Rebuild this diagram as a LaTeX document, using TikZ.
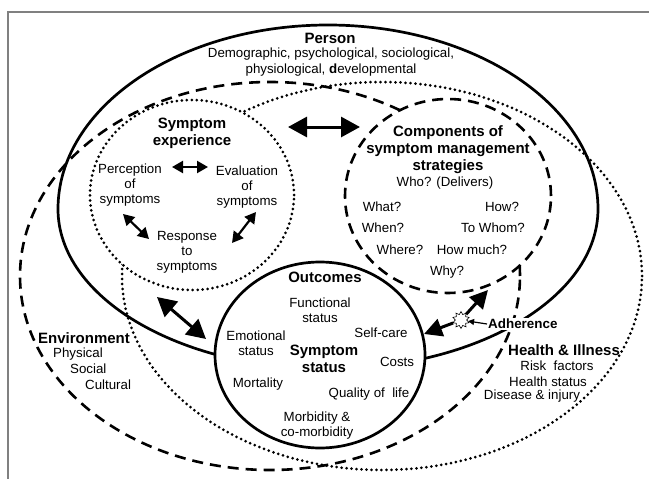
\documentclass[tikz,border=0pt]{standalone}
\usepackage{fontspec}
\setmainfont{Liberation Sans}
\usetikzlibrary{arrows.meta,shapes.geometric}
\begin{document}
\begin{tikzpicture}[x=1pt,y=-1pt,
  txt/.style={font=\fontsize{13.3}{15}\selectfont, align=center, inner sep=0pt},
  hd/.style={font=\fontsize{15}{17}\selectfont\bfseries, align=center, inner sep=0pt},
  solidln/.style={line width=2.7pt},
  dashln/.style={line width=2.6pt, dash pattern=on 11pt off 7pt},
  dotln/.style={line width=3pt, line cap=round, dash pattern=on 0pt off 5pt},
  bigarr/.style={line width=3pt, {Triangle[length=19pt,width=20pt]}-{Triangle[length=19pt,width=20pt]}},
  midarr/.style={line width=2.2pt, {Triangle[length=11pt,width=12pt]}-{Triangle[length=11pt,width=12pt]}},
  onearr/.style={line width=3pt, -{Triangle[length=18pt,width=18pt]}},
]
\useasboundingbox (0,0) rectangle (649,479);
\fill[white] (0,0) rectangle (649,479);
% frame
\draw[line width=1.5pt, gray] (8,479) -- (8,12) -- (649,12);
% environment (dashed)
\draw[dashln] (270,276) ellipse [x radius=250pt, y radius=194pt];
% health & illness (dotted)
\draw[dotln] (382,276) ellipse [x radius=260pt, y radius=194pt];
% person (solid)
\draw[solidln] (58,209) arc[start angle=180,end angle=0,x radius=270pt,y radius=184pt]
  arc[start angle=0,end angle=-180,x radius=270pt,y radius=160pt];
% symptom experience
\draw[dotln, fill=white] (192,195) ellipse [x radius=102pt, y radius=95pt];
% components
\draw[dashln, fill=white] (448,196) ellipse [x radius=103pt, y radius=97pt];
% outcomes
\draw[solidln, fill=white] (320,355) ellipse [x radius=105pt, y radius=93pt];

% texts
\node[hd] (person) at (330,38) {Person};
\node[txt, font=\fontsize{13.3}{16.7}\selectfont] (persondesc) at (331,62) {Demographic, psychological, sociological,\\ physiological, \textbf{d}evelopmental};

\node[hd] (symexp) at (192,133) {Symptom\\experience};
\node[txt] (perc) at (130,185) {Perception\\of\\symptoms};
\node[txt] (eval) at (247,187) {Evaluation\\of\\symptoms};
\node[txt] (resp) at (187,252) {Response\\to\\symptoms};

\node[hd] (comp) at (448,150) {Components of\\symptom management\\strategies};
\node[txt] (who) at (445,183) {Who? (Delivers)};
\node[txt] (what) at (382,207) {What?};
\node[txt] (how) at (502,207) {How?};
\node[txt] (when) at (383,228) {When?};
\node[txt] (towhom) at (493,228) {To Whom?};
\node[txt] (where) at (400,250) {Where?};
\node[txt] (howmuch) at (472,250) {How much?};
\node[txt] (why) at (447,272) {Why?};

\node[hd] (outc) at (325,277) {Outcomes};
\node[txt] (func) at (320,310) {Functional\\status};
\node[txt] (emot) at (256,343) {Emotional\\status};
\node[txt] (selfcare) at (381,333) {Self-care};
\node[hd] (symstat) at (324,359) {Symptom\\status};
\node[txt] (costs) at (397,362) {Costs};
\node[txt] (mort) at (258,384) {Mortality};
\node[txt] (qol) at (369,394) {Quality of\ \ life};
\node[txt] (morb) at (317,426) {Morbidity \&\\co-morbidity};

\node[hd, anchor=west] (env) at (38,338) {Environment};
\node[txt, anchor=west] (phys) at (53,354) {Physical};
\node[txt, anchor=west] (soc) at (70,369) {Social};
\node[txt, anchor=west] (cult) at (85,385) {Cultural};

\node[hd, anchor=west] (health) at (508,350) {Health \& Illness};
\node[txt] (risk) at (557,366) {Risk\ \ factors};
\node[txt] (hstat) at (548,382) {Health status};
\node[txt] (dis) at (532,396) {Disease \& injury};

\node[font=\fontsize{13.4}{15}\selectfont\bfseries, fill=white, inner sep=1pt, anchor=west] (adh) at (487,324) {Adherence};

% arrows
\coordinate (se1) at (288,127); \coordinate (se2) at (360,127);
\draw[bigarr] (se1) -- (se2);
\coordinate (pe1) at (172,167); \coordinate (pe2) at (208,167);
\draw[midarr] (pe1) -- (pe2);
\coordinate (pr1) at (123,214); \coordinate (pr2) at (149,239);
\draw[midarr] (pr1) -- (pr2);
\coordinate (er1) at (256,212); \coordinate (er2) at (232,243);
\draw[midarr] (er1) -- (er2);
\coordinate (so1) at (157,297); \coordinate (so2) at (206,339);
\draw[bigarr] (so1) -- (so2);

\node[star, star points=10, star point ratio=1.5, draw, line width=0.6pt, fill=white, minimum size=17pt, inner sep=0pt] (burst) at (461,320) {};
\coordinate (bc) at (488,290);
\coordinate (bo) at (424,334);
\draw[onearr] (burst) -- (bc);
\draw[onearr] (burst) -- (bo);
\draw[line width=1.2pt, -{Triangle[length=6pt,width=6pt]}] (adh.west) -- (burst);
\end{tikzpicture}
\end{document}
